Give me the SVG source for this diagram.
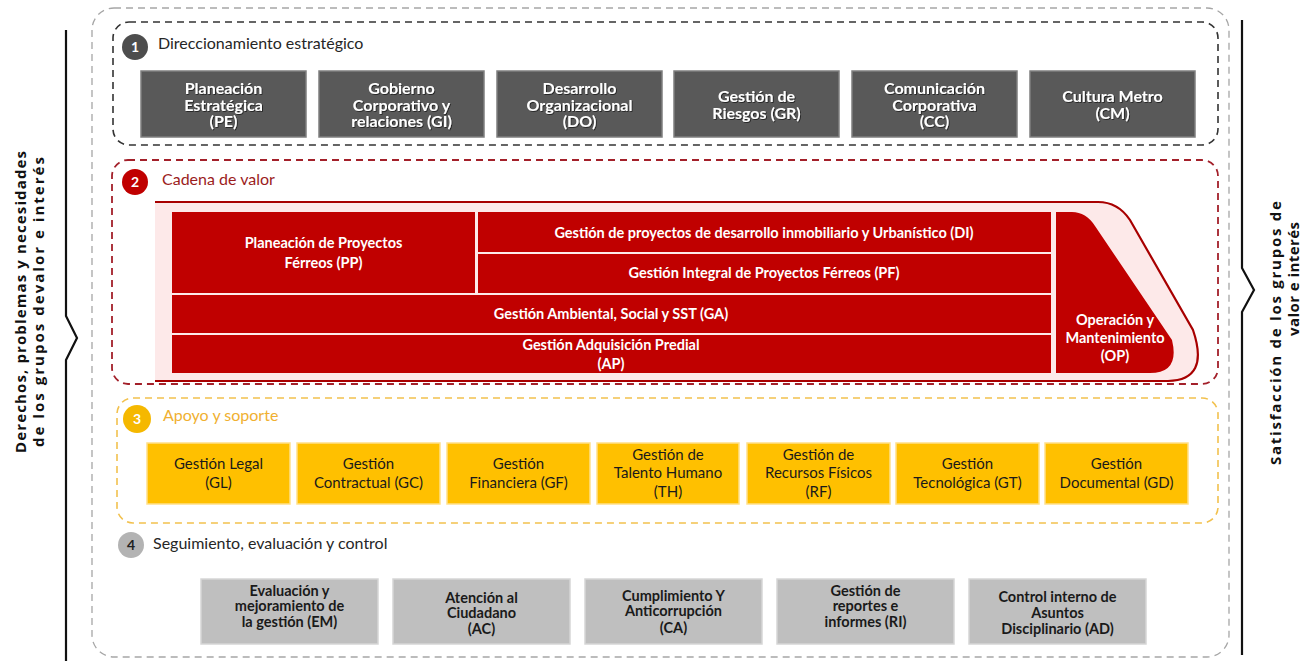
<svg xmlns="http://www.w3.org/2000/svg" width="1314" height="661" viewBox="0 0 1314 661">
<defs>
<filter id="sh" x="-10%" y="-10%" width="120%" height="130%"><feDropShadow dx="0.8" dy="0.8" stdDeviation="0.4" flood-color="#000" flood-opacity="0.7"/></filter>
</defs>
<style>
.frame{fill:none;stroke-dasharray:7 5}
.head{font-family:Lato,"Liberation Sans",sans-serif;font-size:16px}
.num{font-family:Lato,"Liberation Sans",sans-serif;font-size:14px;font-weight:bold;text-anchor:middle}
.b1{fill:#595959;stroke:#7f7f7f;stroke-width:1.5}
.t1{font-family:Lato,"Liberation Sans",sans-serif;font-size:16px;font-weight:bold;fill:#fff;text-anchor:middle;filter:url(#sh)}
.b2{fill:#c00000}
.t2{font-family:Lato,"Liberation Sans",sans-serif;font-size:14.5px;font-weight:bold;fill:#fff;text-anchor:middle}
.b3{fill:#ffc000;stroke:#ffe08a;stroke-width:1.5}
.t3{font-family:Lato,"Liberation Sans",sans-serif;font-size:15px;fill:#1a1a1a;text-anchor:middle}
.b4{fill:#bfbfbf;stroke:#d6d6d6;stroke-width:1.5}
.t4{font-family:Lato,"Liberation Sans",sans-serif;font-size:14.5px;font-weight:bold;fill:#1a1a1a;text-anchor:middle}
.side{font-family:"Open Sans","Liberation Sans",sans-serif;font-size:15px;font-weight:bold;fill:#111;text-anchor:middle}
.brk{fill:none;stroke:#111;stroke-width:2.2}
</style>

<g id="connectors">
  <path class="brk" d="M66,30 V316 L77,338 L66,360 V661"/>
  <path class="brk" d="M1242,20 V268 L1254,290 L1242,312 V655"/>
</g>

<g id="side-left">
  <text class="side" transform="translate(26,302) rotate(-90)" textLength="302" lengthAdjust="spacing">Derechos, problemas y necesidades</text>
  <text class="side" transform="translate(44,302) rotate(-90)" textLength="290" lengthAdjust="spacing">de los grupos devalor e interés</text>
</g>
<g id="side-right">
  <text class="side" transform="translate(1281,333) rotate(-90)" textLength="264" lengthAdjust="spacing">Satisfacción de los grupos de</text>
  <text class="side" transform="translate(1299,279) rotate(-90)" textLength="114" lengthAdjust="spacing">valor e interés</text>
</g>

<g id="outer">
  <rect class="frame" x="92" y="8" width="1137" height="649" rx="22" stroke="#a6a6a6" stroke-width="1.3"/>
</g>

<g id="sec1">
  <rect class="frame" x="113" y="22" width="1105" height="123" rx="16" stroke="#333" stroke-width="1.6"/>
  <circle cx="135" cy="47" r="13" fill="#4d4d4d"/>
  <text class="num" x="135" y="52" fill="#fff">1</text>
  <text class="head" x="158" y="49" fill="#262626">Direccionamiento estratégico</text>
</g>
<g id="PE"><rect class="b1" x="141" y="71" width="165" height="66"/><text class="t1"><tspan x="223.5" y="94">Planeación</tspan><tspan x="223.5" y="110.5">Estratégica</tspan><tspan x="223.5" y="127">(PE)</tspan></text></g>
<g id="GI"><rect class="b1" x="319" y="71" width="165" height="66"/><text class="t1"><tspan x="401.5" y="94">Gobierno</tspan><tspan x="401.5" y="110.5">Corporativo y</tspan><tspan x="401.5" y="127">relaciones (GI)</tspan></text></g>
<g id="DO"><rect class="b1" x="497" y="71" width="165" height="66"/><text class="t1"><tspan x="579.5" y="94">Desarrollo</tspan><tspan x="579.5" y="110.5">Organizacional</tspan><tspan x="579.5" y="127">(DO)</tspan></text></g>
<g id="GR"><rect class="b1" x="674" y="71" width="165" height="66"/><text class="t1"><tspan x="756.5" y="102">Gestión de</tspan><tspan x="756.5" y="119">Riesgos (GR)</tspan></text></g>
<g id="CC"><rect class="b1" x="852" y="71" width="165" height="66"/><text class="t1"><tspan x="934.5" y="94">Comunicación</tspan><tspan x="934.5" y="110.5">Corporativa</tspan><tspan x="934.5" y="127">(CC)</tspan></text></g>
<g id="CM"><rect class="b1" x="1030" y="71" width="165" height="66"/><text class="t1"><tspan x="1112.5" y="102">Cultura Metro</tspan><tspan x="1112.5" y="119">(CM)</tspan></text></g>

<g id="sec2">
  <rect class="frame" x="112" y="160" width="1106" height="224" rx="16" stroke="#a3202a" stroke-width="1.8"/>
  <circle cx="135" cy="182" r="13" fill="#c00000"/>
  <text class="num" x="135" y="187" fill="#fff">2</text>
  <text class="head" x="162" y="185" fill="#9b1c1c">Cadena de valor</text>
  <path d="M155,202 H1098 Q1118,202 1130,220 L1193,330 Q1210,380 1168,381 H155" fill="#fde9e9" stroke="#a80000" stroke-width="2.2"/>
</g>
<g id="PP"><rect class="b2" x="172" y="212" width="303" height="81"/><text class="t2"><tspan x="323.5" y="248">Planeación de Proyectos</tspan><tspan x="323.5" y="268">Férreos (PP)</tspan></text></g>
<g id="DI"><rect class="b2" x="478" y="212" width="573" height="40"/><text class="t2" x="764" y="238">Gestión de proyectos de desarrollo inmobiliario y Urbanístico (DI)</text></g>
<g id="PF"><rect class="b2" x="478" y="254" width="573" height="39"/><text class="t2" x="764" y="278">Gestión Integral de Proyectos Férreos (PF)</text></g>
<g id="GA"><rect class="b2" x="172" y="295" width="879" height="38"/><text class="t2" x="611" y="319">Gestión Ambiental, Social y SST (GA)</text></g>
<g id="AP"><rect class="b2" x="172" y="335" width="879" height="38"/><text class="t2"><tspan x="611" y="350">Gestión Adquisición Predial</tspan><tspan x="611" y="369">(AP)</tspan></text></g>
<g id="OP"><path class="b2" d="M1056,373 V212 H1072 Q1086,212 1095,226 L1172,340 Q1180,373 1150,373 Z"/><text class="t2"><tspan x="1115" y="325">Operación y</tspan><tspan x="1115" y="343">Mantenimiento</tspan><tspan x="1115" y="361">(OP)</tspan></text></g>

<g id="sec3">
  <rect class="frame" x="117" y="398" width="1101" height="125" rx="16" stroke="#f2c14e" stroke-width="1.6"/>
  <circle cx="137" cy="419" r="14" fill="#f5b800"/>
  <text class="num" x="137" y="424" fill="#fff">3</text>
  <text class="head" x="163" y="421" fill="#f0b030">Apoyo y soporte</text>
</g>
<g id="GL"><rect class="b3" x="147" y="443" width="143" height="61"/><text class="t3"><tspan x="218.5" y="469">Gestión Legal</tspan><tspan x="218.5" y="488">(GL)</tspan></text></g>
<g id="GC"><rect class="b3" x="297" y="443" width="143" height="61"/><text class="t3"><tspan x="368.5" y="469">Gestión</tspan><tspan x="368.5" y="488">Contractual (GC)</tspan></text></g>
<g id="GF"><rect class="b3" x="447" y="443" width="143" height="61"/><text class="t3"><tspan x="518.5" y="469">Gestión</tspan><tspan x="518.5" y="488">Financiera (GF)</tspan></text></g>
<g id="TH"><rect class="b3" x="597" y="443" width="142" height="61"/><text class="t3"><tspan x="668" y="460">Gestión de</tspan><tspan x="668" y="478">Talento Humano</tspan><tspan x="668" y="497">(TH)</tspan></text></g>
<g id="RF"><rect class="b3" x="747" y="443" width="143" height="61"/><text class="t3"><tspan x="818.5" y="460">Gestión de</tspan><tspan x="818.5" y="478">Recursos Físicos</tspan><tspan x="818.5" y="497">(RF)</tspan></text></g>
<g id="GT"><rect class="b3" x="896" y="443" width="143" height="61"/><text class="t3"><tspan x="967.5" y="469">Gestión</tspan><tspan x="967.5" y="488">Tecnológica (GT)</tspan></text></g>
<g id="GD"><rect class="b3" x="1045" y="443" width="143" height="61"/><text class="t3"><tspan x="1116.5" y="469">Gestión</tspan><tspan x="1116.5" y="488">Documental (GD)</tspan></text></g>

<g id="sec4">
  <circle cx="131" cy="545" r="13" fill="#b3b3b3"/>
  <text class="num" x="131" y="550" fill="#222">4</text>
  <text class="head" x="153" y="549" fill="#262626">Seguimiento, evaluación y control</text>
</g>
<g id="EM"><rect class="b4" x="201" y="579" width="177" height="65"/><text class="t4"><tspan x="289.5" y="596">Evaluación y</tspan><tspan x="289.5" y="611">mejoramiento de</tspan><tspan x="289.5" y="627">la gestión (EM)</tspan></text></g>
<g id="AC"><rect class="b4" x="393" y="579" width="177" height="65"/><text class="t4"><tspan x="481.5" y="603">Atención al</tspan><tspan x="481.5" y="618">Ciudadano</tspan><tspan x="481.5" y="634">(AC)</tspan></text></g>
<g id="CA"><rect class="b4" x="585" y="579" width="177" height="65"/><text class="t4"><tspan x="673.5" y="601">Cumplimiento  Y</tspan><tspan x="673.5" y="616">Anticorrupción</tspan><tspan x="673.5" y="633">(CA)</tspan></text></g>
<g id="RI"><rect class="b4" x="777" y="579" width="177" height="65"/><text class="t4"><tspan x="865.5" y="596">Gestión de</tspan><tspan x="865.5" y="611">reportes e</tspan><tspan x="865.5" y="627">informes (RI)</tspan></text></g>
<g id="AD"><rect class="b4" x="969" y="579" width="177" height="65"/><text class="t4"><tspan x="1057.5" y="602">Control interno de</tspan><tspan x="1057.5" y="618">Asuntos</tspan><tspan x="1057.5" y="634">Disciplinario (AD)</tspan></text></g>
</svg>
